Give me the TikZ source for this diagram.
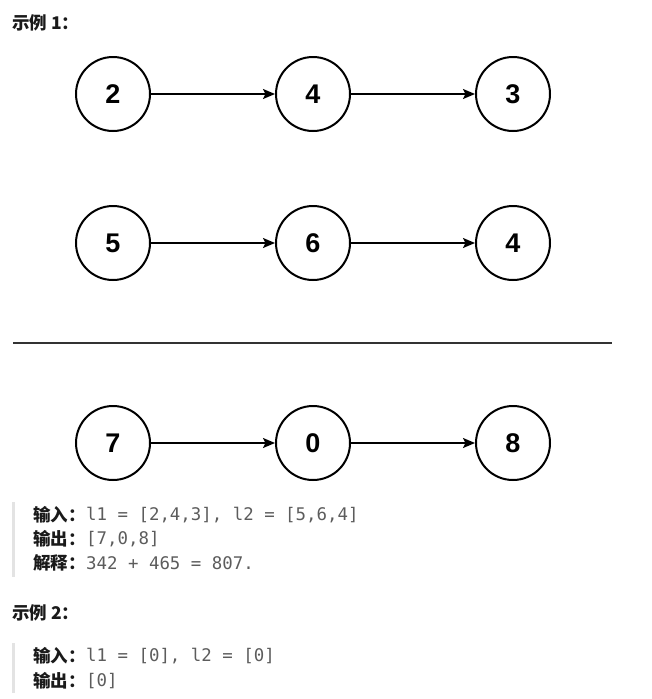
\documentclass[tikz,border=0pt]{standalone}
\usepackage{fontspec}
\setmainfont{Liberation Sans}
\newfontfamily\cjk{Noto Sans CJK SC}
\newfontfamily\mono{DejaVu Sans Mono}
\usetikzlibrary{arrows.meta, positioning}
\definecolor{ink}{HTML}{1A1A1A}
\definecolor{codegray}{HTML}{5C5C5C}
\definecolor{barline}{HTML}{E3E3E3}
\definecolor{rulegray}{HTML}{333333}

\begin{document}
\begin{tikzpicture}[x=1pt, y=-1pt,
  listnode/.style={circle, draw=black, line width=2pt, minimum size=74pt, inner sep=0pt,
    font=\fontsize{27}{27}\selectfont\bfseries},
  link/.style={-{Stealth[length=12pt, width=10pt, inset=2.5pt]}, line width=1.8pt},
  heading/.style={anchor=west, inner sep=0pt, text=ink, font=\cjk\bfseries\fontsize{17.5}{17.5}\selectfont},
  keytext/.style={anchor=west, inner sep=0pt, text=ink, font=\cjk\bfseries\fontsize{17.5}{17.5}\selectfont},
  valtext/.style={anchor=west, inner sep=0pt, text=codegray, font=\mono\fontsize{17.4}{17.4}\selectfont}]
  \useasboundingbox (0,0) rectangle (651,699);

  \node[heading] (ex1) at (12,23) {示例 1：};

  % first list
  \node[listnode] (a1) at (113,94) {2};
  \node[listnode] (a2) at (313,94) {4};
  \node[listnode] (a3) at (513,94) {3};
  \draw[link] (a1) -- (a2);
  \draw[link] (a2) -- (a3);

  % second list
  \node[listnode] (b1) at (113,243) {5};
  \node[listnode] (b2) at (313,243) {6};
  \node[listnode] (b3) at (513,243) {4};
  \draw[link] (b1) -- (b2);
  \draw[link] (b2) -- (b3);

  \draw[line width=2.8pt, color=rulegray] (13,343) -- (612,343);

  % sum
  \node[listnode] (s1) at (113,443) {7};
  \node[listnode] (s2) at (313,443) {0};
  \node[listnode] (s3) at (513,443) {8};
  \draw[link] (s1) -- (s2);
  \draw[link] (s2) -- (s3);

  \fill[barline] (12,502) rectangle (15,577);
  \node[keytext] (in1) at (33,515) {输入：};
  \node[valtext] (in1v) at (86,515) {l1 = [2,4,3], l2 = [5,6,4]};
  \node[keytext] (out1) at (33,539) {输出：};
  \node[valtext] (out1v) at (86,539) {[7,0,8]};
  \node[keytext] (why1) at (33,563) {解释：};
  \node[valtext] (why1v) at (86,563) {342 + 465 = 807.};

  \node[heading] (ex2) at (12,613) {示例 2：};

  \fill[barline] (12,643) rectangle (15,693);
  \node[keytext] (in2) at (33,656) {输入：};
  \node[valtext] (in2v) at (86,656) {l1 = [0], l2 = [0]};
  \node[keytext] (out2) at (33,681) {输出：};
  \node[valtext] (out2v) at (86,681) {[0]};
\end{tikzpicture}
\end{document}
